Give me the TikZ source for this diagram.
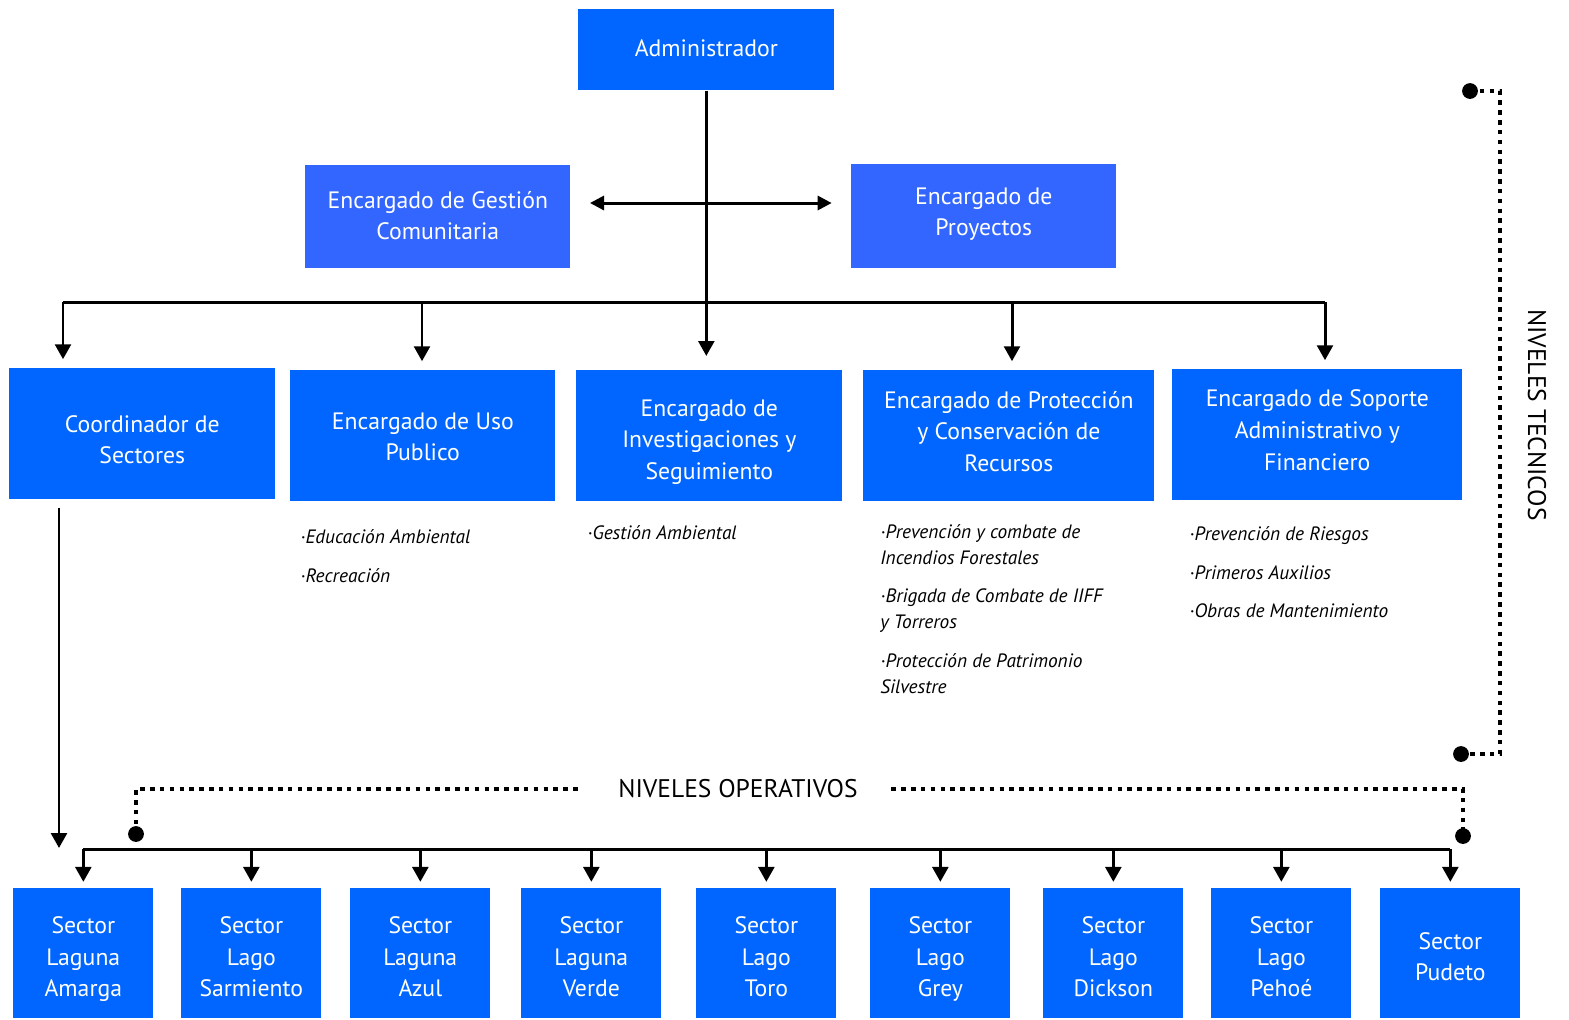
\documentclass[tikz,border=0pt]{standalone}
\usepackage{fontspec}
\setmainfont{PT Sans}
\usetikzlibrary{arrows.meta}
\definecolor{azul}{RGB}{0,102,255}
\definecolor{azulclaro}{RGB}{51,102,255}
\begin{document}
\begin{tikzpicture}[x=0.02cm,y=-0.02cm,
caja/.style={fill=azul,text=white,align=center,inner sep=0pt,anchor=north west,font=\fontsize{13.5}{18}\selectfont,execute at begin node=\strut,execute at end node=\strut},
lista/.style={anchor=north west,align=left,inner sep=0pt,font=\itshape\fontsize{11}{14.7}\selectfont},
linea/.style={line width=1.7pt},
flecha/.style={line width=1.7pt,-{Triangle[width=9pt,length=8.5pt]}},
doble/.style={line width=1.7pt,{Triangle[width=8pt,length=8pt]}-{Triangle[width=8pt,length=8pt]}},
punteado/.style={line width=2.6pt,dash pattern=on 2.6pt off 3pt},
nivel/.style={inner sep=0pt,font=\fontsize{14.5}{17}\selectfont}]
\useasboundingbox (0,0) rectangle (1569,1019);
\node[caja,minimum width=5.12cm,minimum height=1.62cm] (admin) at (578,9) {Administrador};
\node[caja,fill=azulclaro,minimum width=5.3cm,minimum height=2.06cm] (gestion) at (305,165) {\rule{0pt}{13.5pt}Encargado de Gestión\\Comunitaria};
\node[caja,fill=azulclaro,minimum width=5.3cm,minimum height=2.08cm] (proyectos) at (851,164) {Encargado de\\Proyectos};
\node[caja,minimum width=5.32cm,minimum height=2.62cm] (coord) at (9,368) {\rule{0pt}{21.5pt}Coordinador de\\Sectores};
\node[caja,minimum width=5.3cm,minimum height=2.62cm] (uso) at (290,370) {\rule{0pt}{16pt}Encargado de Uso\\Publico};
\node[caja,minimum width=5.32cm,minimum height=2.62cm] (inv) at (576,370) {\rule{0pt}{18.9pt}Encargado de\\Investigaciones y\\Seguimiento};
\node[caja,minimum width=5.82cm,minimum height=2.62cm] (prot) at (863,370) {Encargado de Protección\\y Conservación de\\Recursos};
\node[caja,minimum width=5.8cm,minimum height=2.62cm] (sop) at (1172,369) {Encargado de Soporte\\Administrativo y\\Financiero};
\foreach \n/\x/\t in {amarga/13/{Sector\\Laguna\\Amarga},sarmiento/181/{Sector\\Lago\\Sarmiento},azul/350/{Sector\\Laguna\\Azul},verde/521/{Sector\\Laguna\\Verde},toro/696/{Sector\\Lago\\Toro},grey/870/{Sector\\Lago\\Grey},dickson/1043/{Sector\\Lago\\Dickson},pehoe/1211/{Sector\\Lago\\Pehoé},pudeto/1380/{Sector\\Pudeto}}
  \node[caja,minimum width=2.8cm,minimum height=2.6cm] (\n) at (\x,888) {\rule{0pt}{18.8pt}\t};
\node[lista] (usolista) at (300,529) {·Educación Ambiental\\[7.4pt]·Recreación};
\node[lista] (invlista) at (587,525) {·Gestión Ambiental};
\node[lista] (protlista) at (880,524) {·Prevención y combate de\\Incendios Forestales\\[7.4pt]·Brigada de Combate de IIFF\\y Torreros\\[7.4pt]·Protección de Patrimonio\\Silvestre};
\node[lista] (soplista) at (1189,526) {·Prevención de Riesgos\\[7.4pt]·Primeros Auxilios\\[7.4pt]·Obras de Mantenimiento};
\draw[flecha,shorten >=8pt] (admin.south) -- (admin.south |- inv.north);
\draw[doble,shorten <=11pt,shorten >=11pt] (gestion.east |- 0,203) -- (proyectos.west |- 0,203);
\coordinate (busL) at (63,302);
\coordinate (busR) at (1325,302);
\draw[linea] (busL) -- (busR);
\foreach \n/\x in {coord/63,uso/422,prot/1012,sop/1325}
  \draw[flecha,shorten >=5pt] (\x,302) -- (\x,0 |- \n.north);
\coordinate (cbaja) at (59,848);
\draw[flecha,shorten <=4.5pt] (coord.south -| cbaja) -- (cbaja);
\coordinate (sbus) at (0,849);
\draw[linea] (amarga.north |- sbus) -- (pudeto.north |- sbus);
\foreach \n in {amarga,sarmiento,azul,verde,toro,grey,dickson,pehoe,pudeto}
  \draw[flecha,shorten >=3.5pt] (\n.north |- sbus) -- (\n.north);
\node[nivel] (operativos) at (738,789) {NIVELES OPERATIVOS};
\coordinate (opi) at (136,834);
\coordinate (opd) at (1463,836);
\draw[punteado] (opi) |- ([xshift=-20pt]operativos.west);
\draw[punteado] ([xshift=19pt]operativos.east) -| (opd);
\fill (opi) circle (4.5pt);
\fill (opd) circle (4.5pt);
\node[nivel,rotate=-90] (tecnicos) at (1537,415) {NIVELES TECNICOS};
\coordinate (tsup) at (1470,91);
\coordinate (tinf) at (1461,754);
\coordinate (tlado) at (1500,0);
\draw[punteado] (tsup) -| (tlado |- tinf) -- (tinf);
\fill (tsup) circle (4.5pt);
\fill (tinf) circle (4.5pt);
\end{tikzpicture}
\end{document}
